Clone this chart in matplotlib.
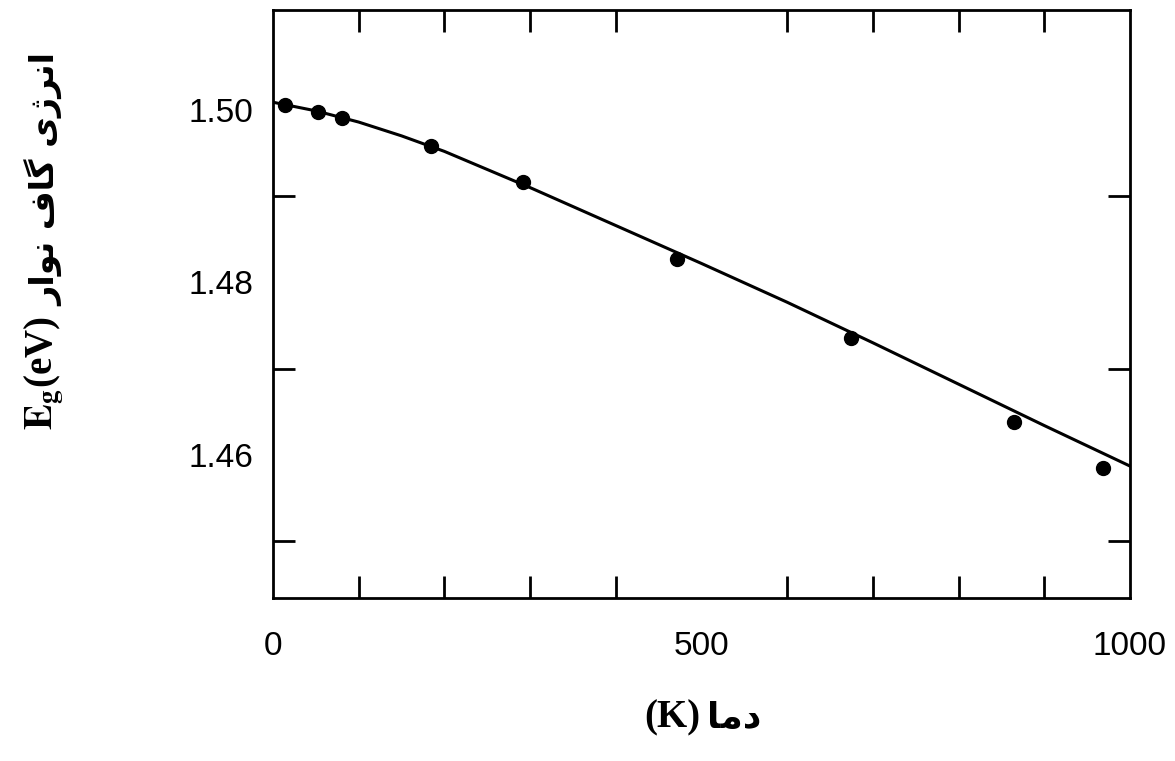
import numpy as np
import matplotlib.pyplot as plt

plt.rcParams['mathtext.fontset'] = 'stix'

# measured points (temperature K, band gap eV)
temp_k = [14, 53, 81, 184, 292, 471, 674, 865, 968]
gap_ev = [1.5006, 1.4998, 1.4991, 1.4958, 1.4917, 1.4827, 1.4735, 1.4638, 1.4585]

# fitted curve
fit_t = [0, 50, 100, 150, 200, 300, 400, 500, 600, 700, 800, 900, 1000]
fit_e = [1.5009, 1.4999, 1.4986, 1.4970, 1.4952, 1.4910, 1.4866, 1.4822, 1.4777, 1.4730, 1.4682, 1.4634, 1.4587]

x_ticks = [0, 500, 1000]
y_ticks = [1.46, 1.48, 1.50]

# Persian text pre-shaped (presentation forms, visual order)
xlabel_fa = "\uFE8E\uFEE3\uFEA9"  # دما
ylabel_fa = "\uFEAD\uFE8D\uFEEE\uFEE7 \uFED1\uFE8E\uFB94 \uFBFC\uFB8A\uFEAE\uFEE7\uFE8D"  # انرژی گاف نوار

fig = plt.figure(figsize=(11.75, 7.61), dpi=100)
ax = fig.add_axes([0.2323, 0.2142, 0.7294, 0.7727])

ax.plot(fit_t, fit_e, color='black', lw=2.2)
ax.plot(temp_k, gap_ev, 'o', color='black', ms=10)

ax.set_xlim(0, 1000)
ax.set_ylim(1.4434, 1.5116)
ax.set_xticks(x_ticks)
ax.set_xticks(np.arange(0, 1001, 100), minor=True)
ax.set_yticks(y_ticks)
ax.set_yticks(np.arange(1.45, 1.505, 0.01), minor=True)
ax.set_xticklabels(['0', '500', '1000'])
ax.set_yticklabels(['1.46', '1.48', '1.50'])

ax.tick_params(which='both', direction='in', top=True, right=True, width=2, labelsize=24)
ax.tick_params(which='major', length=0)
ax.tick_params(which='minor', length=16)
ax.tick_params(axis='x', pad=24)
ax.tick_params(axis='y', pad=14)
for lab in ax.get_xticklabels() + ax.get_yticklabels():
    lab.set_fontfamily('Liberation Sans')
for s in ax.spines.values():
    s.set_linewidth(2)

# x label
fig.text(0.596, 0.057, '(K)', fontsize=28, fontweight='bold', family='Liberation Serif',
         ha='right', va='center')
fig.text(0.602, 0.057, xlabel_fa, fontsize=26, fontweight='bold', family='DejaVu Sans',
         ha='left', va='center')

# y label
fig.text(0.038, 0.435, r'$\mathbf{E_g}$' + '(eV)', fontsize=28, fontweight='bold',
         family='Liberation Serif', rotation=90, ha='center', va='bottom')
fig.text(0.038, 0.598, ylabel_fa, fontsize=24, fontweight='bold', family='DejaVu Sans',
         rotation=90, ha='center', va='bottom')

fig.savefig('out.png', dpi=100)
